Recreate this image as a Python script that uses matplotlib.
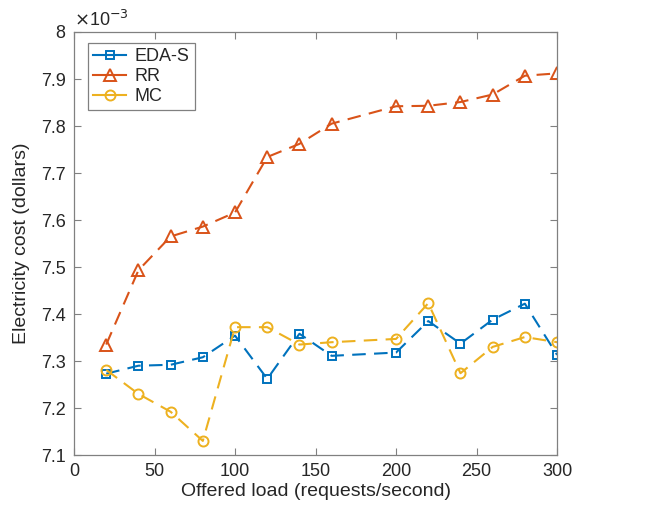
import matplotlib.pyplot as plt
from matplotlib.lines import Line2D
from matplotlib.ticker import MultipleLocator

# offered load (requests/second)
load = [20, 40, 60, 80, 100, 120, 140, 160, 200, 220, 240, 260, 280, 300]

# electricity cost, in units of 1e-3 dollars
eda_s = [7.273, 7.290, 7.292, 7.308, 7.354, 7.262, 7.358, 7.311, 7.318,
         7.385, 7.337, 7.388, 7.422, 7.313]
rr = [7.335, 7.493, 7.565, 7.586, 7.616, 7.734, 7.762, 7.805, 7.842,
      7.843, 7.851, 7.867, 7.907, 7.912]
mc = [7.281, 7.230, 7.192, 7.130, 7.372, 7.372, 7.335, 7.340, 7.347,
      7.423, 7.274, 7.330, 7.351, 7.340]

labels = ["EDA-S", "RR", "MC"]
colors = ["#0072BD", "#D95319", "#EDB120"]
markers = ["s", "^", "o"]
msizes = [6.0, 8.0, 7.2]

plt.rcParams["font.family"] = ["Liberation Sans", "DejaVu Sans"]
AX = "#808080"
TXT = "#262626"

fig = plt.figure(figsize=(6.47, 5.12), dpi=100)
ax = fig.add_axes([0.1144, 0.1113, 0.7466, 0.8262])

for ys, c, m, ms in zip([eda_s, rr, mc], colors, markers, msizes):
    ax.plot(load, ys, linestyle=(0, (6.5, 4)), color=c, lw=1.5,
            marker=m, markersize=ms, markerfacecolor="none",
            markeredgecolor=c, markeredgewidth=1.4)

ax.set_xlim(0, 300)
ax.set_ylim(7.1, 8.0)
ax.xaxis.set_major_locator(MultipleLocator(50))
ax.set_yticks([7.1, 7.2, 7.3, 7.4, 7.5, 7.6, 7.7, 7.8, 7.9, 8.0])
ax.set_yticklabels(["7.1", "7.2", "7.3", "7.4", "7.5", "7.6", "7.7",
                    "7.8", "7.9", "8"])

ax.tick_params(direction="in", top=True, right=True, length=5, width=0.8,
               color=AX, labelcolor=TXT, labelsize=13, pad=6)
for sp in ax.spines.values():
    sp.set_color(AX)
    sp.set_linewidth(0.9)

ax.set_xlabel("Offered load (requests/second)", fontsize=14, color=TXT,
              labelpad=2)
ax.set_ylabel("Electricity cost (dollars)", fontsize=14, color=TXT,
              labelpad=8)
ax.text(0.0, 1.005, r"$\times$10$^{-3}$", transform=ax.transAxes,
        fontsize=13, color=TXT, ha="left", va="bottom")

handles = [Line2D([], [], color=c, lw=1.5, marker=m, markersize=ms,
                  markerfacecolor="none", markeredgewidth=1.4)
           for c, m, ms in zip(colors, markers, msizes)]
leg = ax.legend(handles, labels, loc="upper left", fontsize=13,
                handlelength=1.8, handletextpad=0.5, borderpad=0.3,
                labelspacing=0.15, fancybox=False, framealpha=1,
                borderaxespad=0, bbox_to_anchor=(0.029, 0.974))
leg.get_frame().set_edgecolor(AX)
leg.get_frame().set_linewidth(0.9)
for t in leg.get_texts():
    t.set_color(TXT)

fig.savefig("out.png", dpi=100)
